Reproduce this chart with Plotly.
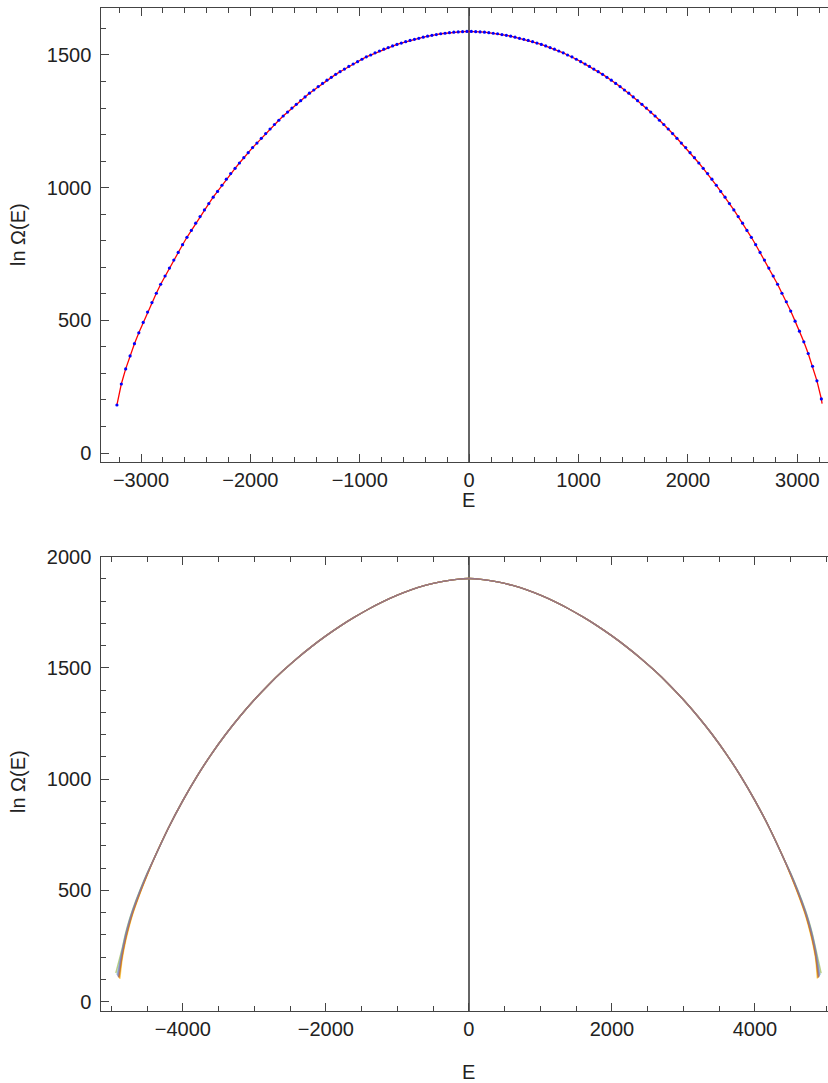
import plotly.graph_objects as go

# ---------------- Top panel data ----------------
E_top = list(range(-3220, 3221, 40))
lnO_top = [
    181, 260, 317, 366, 412, 453, 492, 531, 567, 602,
    636, 667, 697, 727, 756, 785, 813, 839, 866, 891,
    916, 940, 964, 986, 1009, 1032, 1053, 1073, 1093, 1113,
    1132, 1151, 1168, 1186, 1204, 1221, 1238, 1254, 1270, 1285,
    1300, 1314, 1328, 1342, 1356, 1368, 1381, 1393, 1405, 1416,
    1427, 1437, 1447, 1457, 1466, 1475, 1484, 1493, 1500, 1508,
    1515, 1522, 1528, 1534, 1540, 1545, 1550, 1555, 1559, 1563,
    1567, 1571, 1574, 1577, 1580, 1582, 1584, 1586, 1587, 1588,
    1589,
    1589, 1588, 1587, 1586, 1584, 1582, 1580, 1577, 1574, 1571,
    1567, 1563, 1559, 1555, 1550, 1545, 1540, 1534, 1528, 1522,
    1515, 1508, 1500, 1493, 1484, 1475, 1466, 1457, 1447, 1437,
    1427, 1416, 1405, 1393, 1381, 1368, 1356, 1342, 1328, 1314,
    1300, 1285, 1270, 1254, 1238, 1221, 1204, 1186, 1168, 1151,
    1132, 1113, 1093, 1073, 1053, 1032, 1009, 986, 964, 940,
    916, 891, 866, 839, 813, 785, 756, 727, 697, 667,
    636, 602, 570, 535, 497, 459, 419, 375, 327, 272,
    204,
]
# red curve extends slightly past the last point on the right
E_top_line = E_top + [3227]
lnO_top_line = lnO_top + [186]

# ---------------- Bottom panel data ----------------
E_mid = list(range(-4400, 4401, 200))
lnO_mid = [
    645, 782, 904, 1014, 1113, 1202, 1283, 1357, 1425, 1487,
    1544, 1596, 1644, 1688, 1728, 1765, 1798, 1827, 1852, 1872,
    1887, 1897, 1902,
    1897, 1887, 1872, 1852, 1827, 1798, 1765, 1728, 1688, 1644,
    1596, 1544, 1487, 1425, 1357, 1283, 1202, 1113, 1014, 904,
    782, 645,
]
series_names = ["yellow", "green", "lightblue", "orange", "red", "blue", "brown", "purple"]
series_colors = ["#FFBF00", "#8FB032", "#5D9EC7", "#E19C24",
                 "#EB6235", "#5E81B5", "#C56E1A", "#8778B3"]
tail_E = [4500, 4600, 4700, 4750, 4800, 4850]
tail_lnO = [
    [567, 485, 394, 338, 272, 187],
    [577, 501, 416, 366, 308, 237],
    [576, 499, 413, 362, 303, 230],
    [570, 489, 400, 345, 281, 200],
    [571, 491, 403, 349, 286, 207],
    [573, 495, 407, 355, 294, 217],
    [570, 490, 401, 347, 284, 203],
    [574, 496, 409, 358, 297, 222],
]
left_end_E = [-4881, -4937, -4920, -4888, -4898, -4903, -4893, -4910]
left_end_lnO = [102, 129, 120, 106, 110, 112, 108, 115]
right_end_E = [4871, 4925, 4910, 4880, 4890, 4895, 4885, 4900]
right_end_lnO = [104, 128, 120, 106, 110, 112, 108, 115]

fig = go.Figure()

fig.add_trace(go.Scatter(x=E_top_line, y=lnO_top_line, mode="lines",
                         line=dict(color="#ff0000", width=1.3),
                         xaxis="x", yaxis="y", showlegend=False))
fig.add_trace(go.Scatter(x=E_top, y=lnO_top, mode="markers",
                         marker=dict(color="#0000ff", size=3.2),
                         xaxis="x", yaxis="y", showlegend=False))

for i, name in enumerate(series_names):
    xs = [left_end_E[i]] + [-e for e in tail_E[::-1]] + E_mid + tail_E + [right_end_E[i]]
    ys = [left_end_lnO[i]] + tail_lnO[i][::-1] + lnO_mid + tail_lnO[i] + [right_end_lnO[i]]
    fig.add_trace(go.Scatter(x=xs, y=ys, mode="lines", name=name,
                             line=dict(color=series_colors[i], width=1.4, shape="spline",
                                       smoothing=0.6),
                             opacity=0.6,
                             xaxis="x2", yaxis="y2", showlegend=False))

W, H = 828, 1083
font = dict(family="Liberation Sans, Arial, sans-serif", size=20, color="#222222")
frame = "#444444"

def xax(domain, rng, dtick, mdtick):
    return dict(domain=domain, range=rng, showline=True, linecolor=frame, linewidth=1,
                mirror="ticks", ticks="inside", ticklen=8, tickwidth=1, tickcolor=frame,
                tick0=0, dtick=dtick,
                minor=dict(ticks="inside", ticklen=5, tickwidth=1, tickcolor=frame,
                           tick0=0, dtick=mdtick, showgrid=False),
                showgrid=False, zeroline=True, zerolinecolor="#666666", zerolinewidth=1.5,
                tickfont=font, ticklabelstandoff=0, automargin=False, fixedrange=True)

def yax(domain, rng, dtick, mdtick):
    return dict(domain=domain, range=rng, showline=True, linecolor=frame, linewidth=1,
                mirror=False, ticks="inside", ticklen=8, tickwidth=1, tickcolor=frame,
                tick0=0, dtick=dtick,
                minor=dict(ticks="inside", ticklen=5, tickwidth=1, tickcolor=frame,
                           tick0=0, dtick=mdtick, showgrid=False),
                showgrid=False, zeroline=False,
                tickfont=font, ticklabelstandoff=5, automargin=False, fixedrange=True)

x0 = 101.3 / W
fig.update_layout(
    width=W, height=H, margin=dict(l=0, r=0, t=0, b=0, pad=0, autoexpand=False),
    paper_bgcolor="white", plot_bgcolor="white", showlegend=False,
    xaxis=dict(xax([x0, 1.0], [-3363, 3281], 1000, 200), anchor="y"),
    yaxis=dict(yax([1 - 462 / H, 1 - 8 / H], [-33.9, 1677.1], 500, 100), anchor="x"),
    xaxis2=dict(xax([x0, 1.0], [-5140, 5021], 2000, 500), anchor="y2"),
    yaxis2=dict(yax([1 - 1010.7 / H, 1 - 556.7 / H], [-40.4, 2000], 500, 100), anchor="x2"),
    annotations=[
        dict(text="E", x=469 / W, y=1 - 500 / H, xref="paper", yref="paper",
             showarrow=False, font=font, xanchor="center", yanchor="middle"),
        dict(text="E", x=469 / W, y=1 - 1072 / H, xref="paper", yref="paper",
             showarrow=False, font=font, xanchor="center", yanchor="middle"),
        dict(text="ln Ω(E)", x=18 / W, y=1 - 235 / H, xref="paper", yref="paper",
             showarrow=False, font=font, textangle=-90, xanchor="center", yanchor="middle"),
        dict(text="ln Ω(E)", x=18 / W, y=1 - 782 / H, xref="paper", yref="paper",
             showarrow=False, font=font, textangle=-90, xanchor="center", yanchor="middle"),
    ],
)

fig.write_html("out.html")
